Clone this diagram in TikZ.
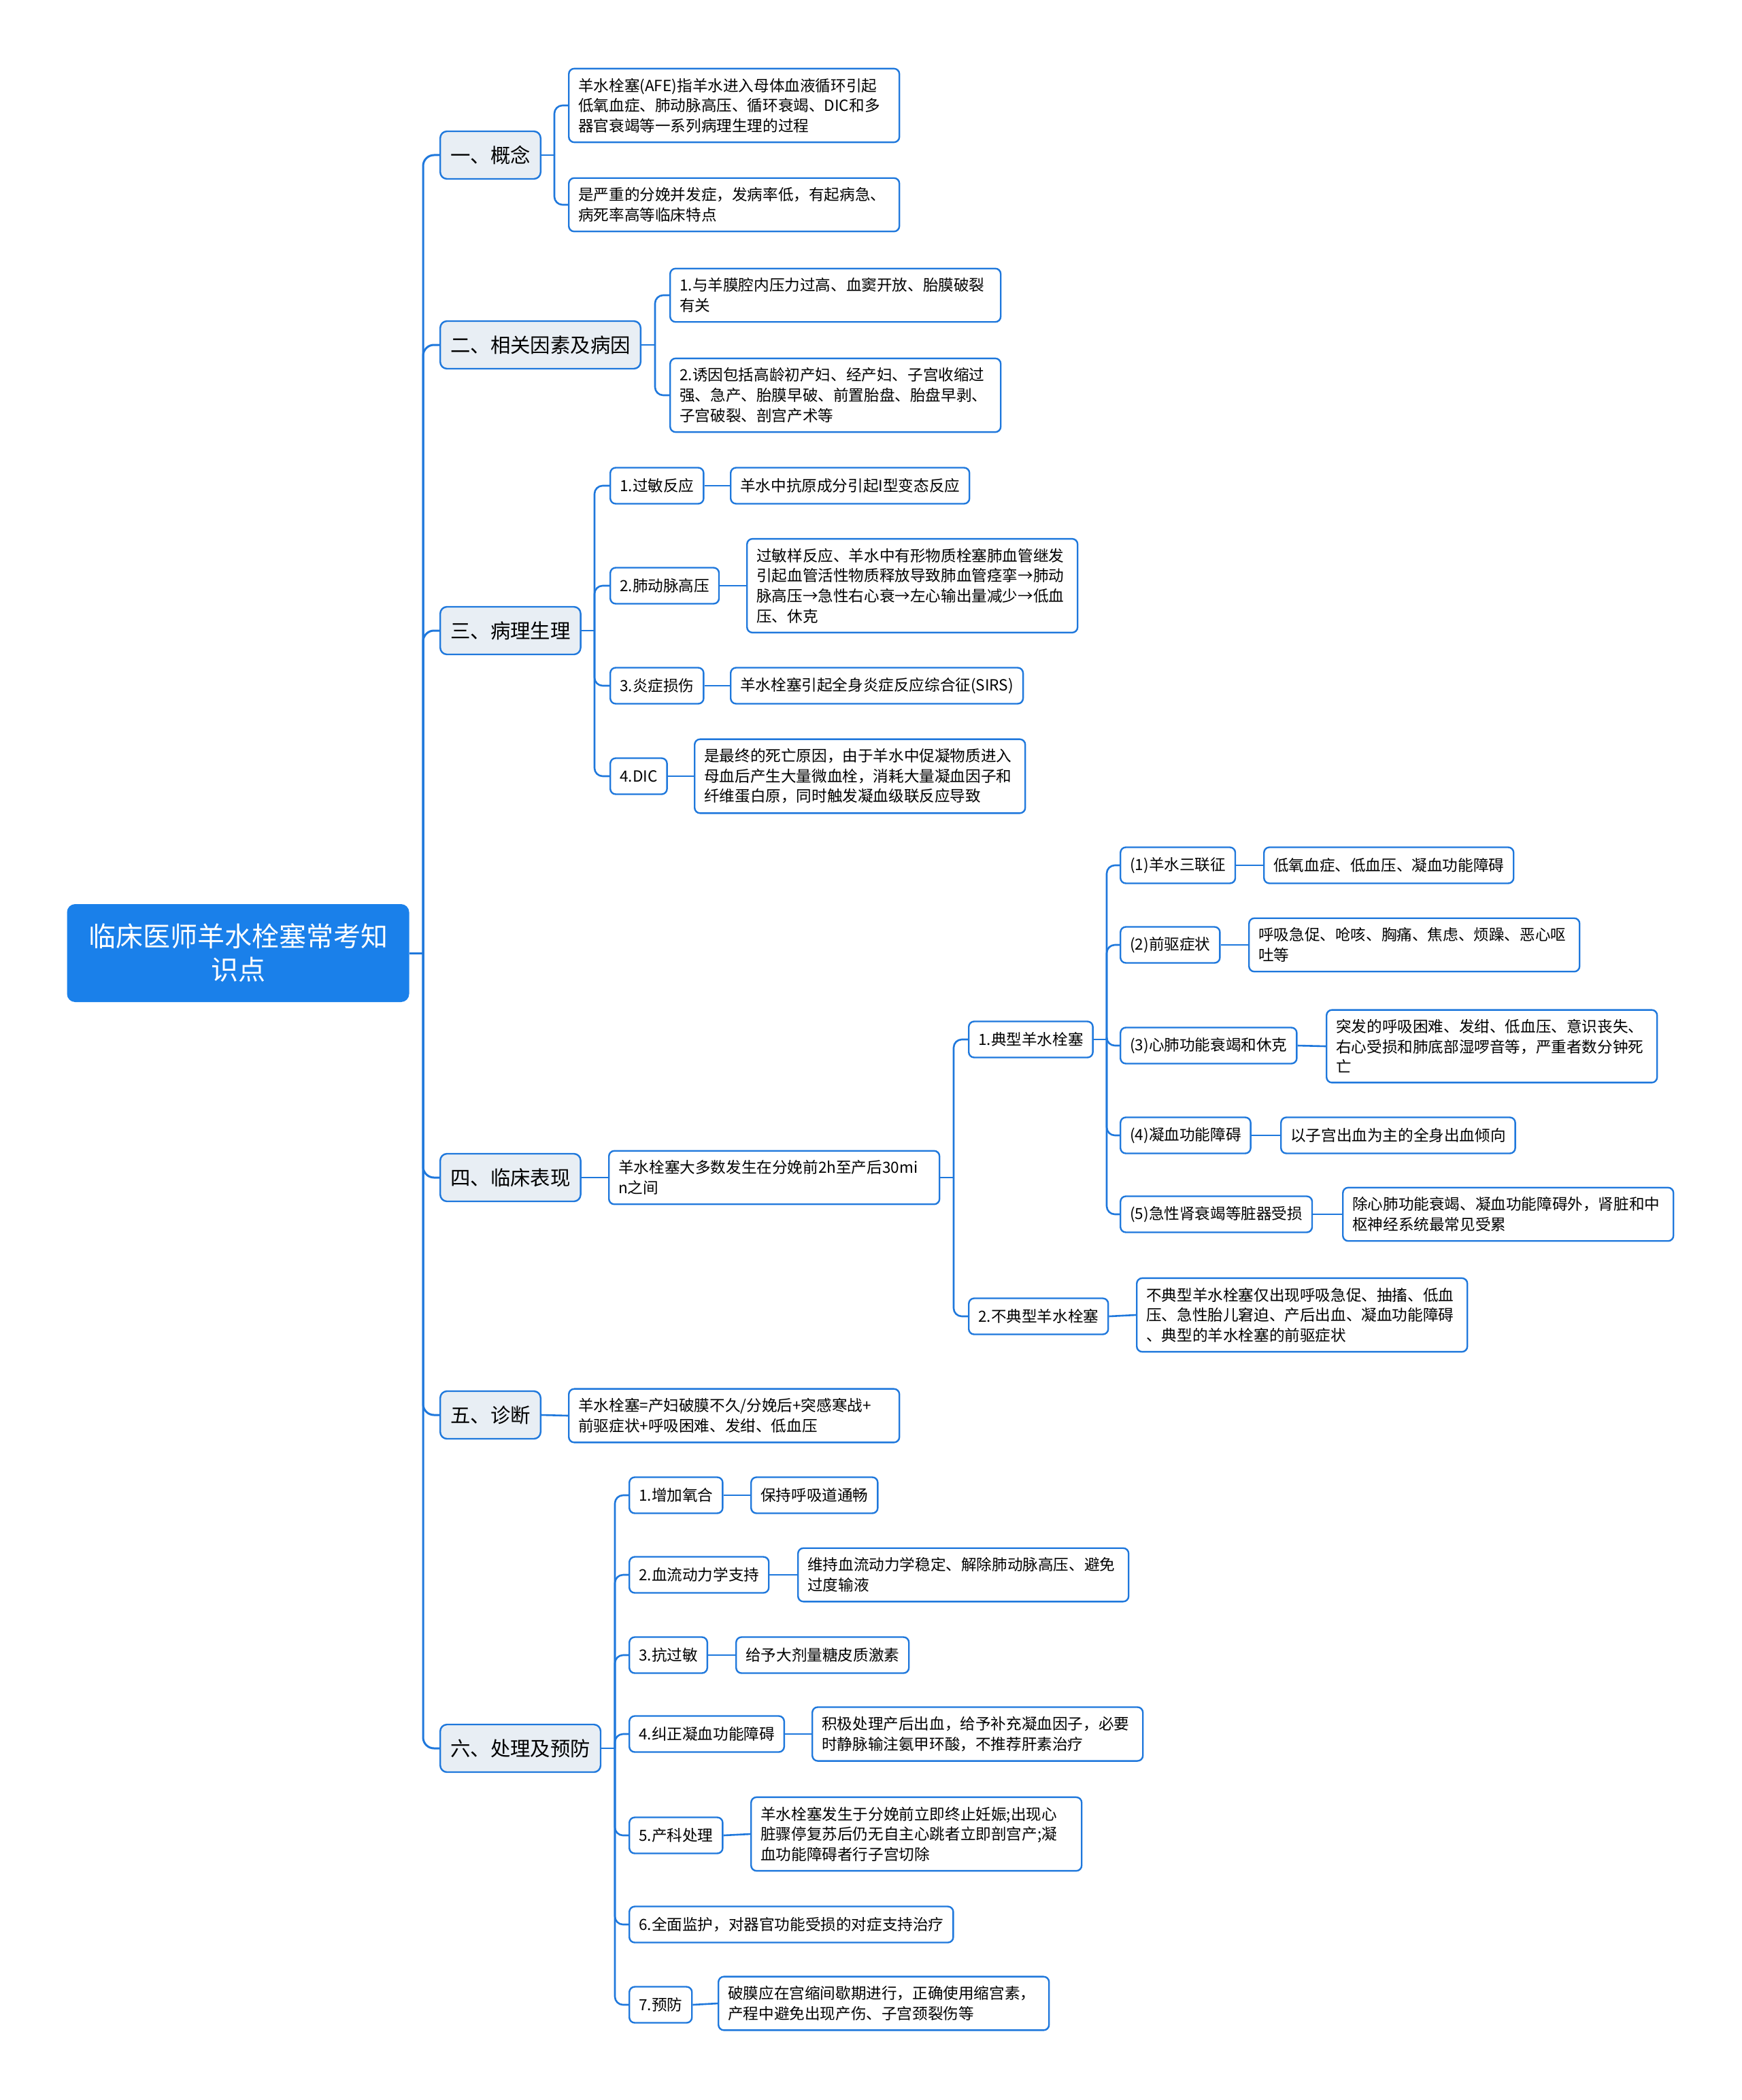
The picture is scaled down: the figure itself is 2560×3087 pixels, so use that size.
\documentclass[tikz,border=0pt]{standalone}
\usepackage{fontspec}
\setmainfont{Noto Sans CJK SC}
\definecolor{lineblue}{HTML}{1F78DC}
\definecolor{rootblue}{HTML}{1A80EA}
\definecolor{subgrey}{HTML}{E8EEF4}
\tikzset{
  root/.style={fill=rootblue, text=white, rounded corners=6pt, align=center,
    font=\fontsize{20}{24.6}\selectfont, text width=225pt, minimum width=251.5pt, minimum height=72pt},
  topic/.style={draw=lineblue, fill=subgrey, line width=1.2pt, rounded corners=5pt, anchor=west,
    font=\fontsize{14.7}{18}\selectfont, inner xsep=7.5pt, minimum height=35pt},
  leaf/.style={draw=lineblue, fill=white, line width=1.2pt, rounded corners=4pt, anchor=west, align=left,
    font=\fontsize{11.3}{14.8}\selectfont, inner xsep=7pt, inner ysep=7pt, minimum height=26.5pt},
  wide/.style={leaf, text width=229pt},
  link/.style={draw=lineblue, line width=1.3pt, rounded corners=6pt},
  trunk/.style={draw=lineblue, line width=1.5pt, rounded corners=8pt}
}
\begin{document}
\begin{tikzpicture}[x=0.5pt, y=-0.5pt]
  \useasboundingbox (0,0) rectangle (2560,3087);

  \node[root] (root) at (350,1401) {临床医师羊水栓塞常考知\\识点};

  % first level
  \node[topic] (c1) at (646,228) {一、概念};
  \node[topic] (c2) at (646,507) {二、相关因素及病因};
  \node[topic] (c3) at (646,927) {三、病理生理};
  \node[topic] (c4) at (646,1731) {四、临床表现};
  \node[topic] (c5) at (646,2080) {五、诊断};
  \node[topic] (c6) at (646,2570) {六、处理及预防};

  \coordinate (t0) at (622,1401);
  \draw[trunk] (root.east) -- (t0);
  \foreach \c in {c1,c2,c3,c4,c5,c6}
    \draw[trunk] (t0) |- (\c.west);

  % 一
  \node[wide] (c1a) at (835,155) {羊水栓塞(AFE)指羊水进入母体血液循环引起\\低氧血症、肺动脉高压、循环衰竭、DIC和多\\器官衰竭等一系列病理生理的过程};
  \node[wide] (c1b) at (835,301) {是严重的分娩并发症，发病率低，有起病急、\\病死率高等临床特点};
  \coordinate (b1) at (815,228);
  \draw[link] (c1.east) -- (b1);
  \foreach \c in {c1a,c1b}
    \draw[link] (b1) |- (\c.west);

  % 二
  \node[wide] (c2a) at (984,434) {1.与羊膜腔内压力过高、血窦开放、胎膜破裂\\有关};
  \node[wide] (c2b) at (984,581) {2.诱因包括高龄初产妇、经产妇、子宫收缩过\\强、急产、胎膜早破、前置胎盘、胎盘早剥、\\子宫破裂、剖宫产术等};
  \coordinate (b2) at (963,507);
  \draw[link] (c2.east) -- (b2);
  \foreach \c in {c2a,c2b}
    \draw[link] (b2) |- (\c.west);

  % 三
  \node[leaf] (c3a) at (896,714) {1.过敏反应};
  \node[leaf] (c3b) at (896,861) {2.肺动脉高压};
  \node[leaf] (c3c) at (896,1008) {3.炎症损伤};
  \node[leaf] (c3d) at (896,1141) {4.DIC};
  \node[leaf] (c3a1) at (1073,714) {羊水中抗原成分引起I型变态反应};
  \node[wide] (c3b1) at (1097,861) {过敏样反应、羊水中有形物质栓塞肺血管继发\\引起血管活性物质释放导致肺血管痉挛→肺动\\脉高压→急性右心衰→左心输出量减少→低血\\压、休克};
  \node[leaf] (c3c1) at (1073,1008) {羊水栓塞引起全身炎症反应综合征(SIRS)};
  \node[wide] (c3d1) at (1020,1141) {是最终的死亡原因，由于羊水中促凝物质进入\\母血后产生大量微血栓，消耗大量凝血因子和\\纤维蛋白原，同时触发凝血级联反应导致};
  \coordinate (b3) at (874,927);
  \draw[link] (c3.east) -- (b3);
  \foreach \c in {c3a,c3b,c3c,c3d}
    \draw[link] (b3) |- (\c.west);
  \foreach \c in {c3a,c3b,c3c,c3d}
    \draw[link] (\c.east) -- (\c1.west);

  % 四
  \node[wide] (c4a) at (894,1731) {羊水栓塞大多数发生在分娩前2h至产后30mi\\n之间};
  \draw[link] (c4.east) -- (c4a.west);
  \node[leaf] (d1) at (1423,1528) {1.典型羊水栓塞};
  \node[leaf] (d2) at (1423,1935) {2.不典型羊水栓塞};
  \node[wide] (d21) at (1670,1933) {不典型羊水栓塞仅出现呼吸急促、抽搐、低血\\压、急性胎儿窘迫、产后出血、凝血功能障碍\\、典型的羊水栓塞的前驱症状};
  \coordinate (b4) at (1402,1731);
  \draw[link] (c4a.east) -- (b4);
  \foreach \c in {d1,d2}
    \draw[link] (b4) |- (\c.west);
  \draw[link] (d2.east) -- (d21.west);

  \node[leaf] (e1) at (1646,1272) {(1)羊水三联征};
  \node[leaf] (e2) at (1646,1389) {(2)前驱症状};
  \node[leaf] (e3) at (1646,1537) {(3)心肺功能衰竭和休克};
  \node[leaf] (e4) at (1646,1669) {(4)凝血功能障碍};
  \node[leaf] (e5) at (1646,1785) {(5)急性肾衰竭等脏器受损};
  \node[leaf] (e11) at (1857,1272) {低氧血症、低血压、凝血功能障碍};
  \node[wide] (e21) at (1835,1389) {呼吸急促、呛咳、胸痛、焦虑、烦躁、恶心呕\\吐等};
  \node[wide] (e31) at (1949,1538) {突发的呼吸困难、发绀、低血压、意识丧失、\\右心受损和肺底部湿啰音等，严重者数分钟死\\亡};
  \node[leaf] (e41) at (1882,1669) {以子宫出血为主的全身出血倾向};
  \node[wide] (e51) at (1973,1785) {除心肺功能衰竭、凝血功能障碍外，肾脏和中\\枢神经系统最常见受累};
  \coordinate (b5) at (1627,1528);
  \draw[link] (d1.east) -- (b5);
  \foreach \c in {e1,e2,e3,e4,e5}
    \draw[link] (b5) |- (\c.west);
  \foreach \c in {e1,e2,e3,e4,e5}
    \draw[link] (\c.east) -- (\c1.west);

  % 五
  \node[wide] (c5a) at (835,2081) {羊水栓塞=产妇破膜不久/分娩后+突感寒战+\\前驱症状+呼吸困难、发绀、低血压};
  \draw[link] (c5.east) -- (c5a.west);

  % 六
  \node[leaf] (g1) at (924,2198) {1.增加氧合};
  \node[leaf] (g2) at (924,2315) {2.血流动力学支持};
  \node[leaf] (g3) at (924,2433) {3.抗过敏};
  \node[leaf] (g4) at (924,2549) {4.纠正凝血功能障碍};
  \node[leaf] (g5) at (924,2698) {5.产科处理};
  \node[leaf] (g6) at (924,2829) {6.全面监护，对器官功能受损的对症支持治疗};
  \node[leaf] (g7) at (924,2947) {7.预防};
  \node[leaf] (g11) at (1103,2198) {保持呼吸道通畅};
  \node[wide] (g21) at (1172,2315) {维持血流动力学稳定、解除肺动脉高压、避免\\过度输液};
  \node[leaf] (g31) at (1081,2433) {给予大剂量糖皮质激素};
  \node[wide] (g41) at (1193,2549) {积极处理产后出血，给予补充凝血因子，必要\\时静脉输注氨甲环酸，不推荐肝素治疗};
  \node[wide] (g51) at (1103,2696) {羊水栓塞发生于分娩前立即终止妊娠;出现心\\脏骤停复苏后仍无自主心跳者立即剖宫产;凝\\血功能障碍者行子宫切除};
  \node[wide] (g71) at (1055,2945) {破膜应在宫缩间歇期进行，正确使用缩宫素，\\产程中避免出现产伤、子宫颈裂伤等};
  \coordinate (b6) at (904,2570);
  \draw[link] (c6.east) -- (b6);
  \foreach \c in {g1,g2,g3,g4,g5,g6,g7}
    \draw[link] (b6) |- (\c.west);
  \foreach \c in {g1,g2,g3,g4,g5,g7}
    \draw[link] (\c.east) -- (\c1.west);
\end{tikzpicture}
\end{document}
